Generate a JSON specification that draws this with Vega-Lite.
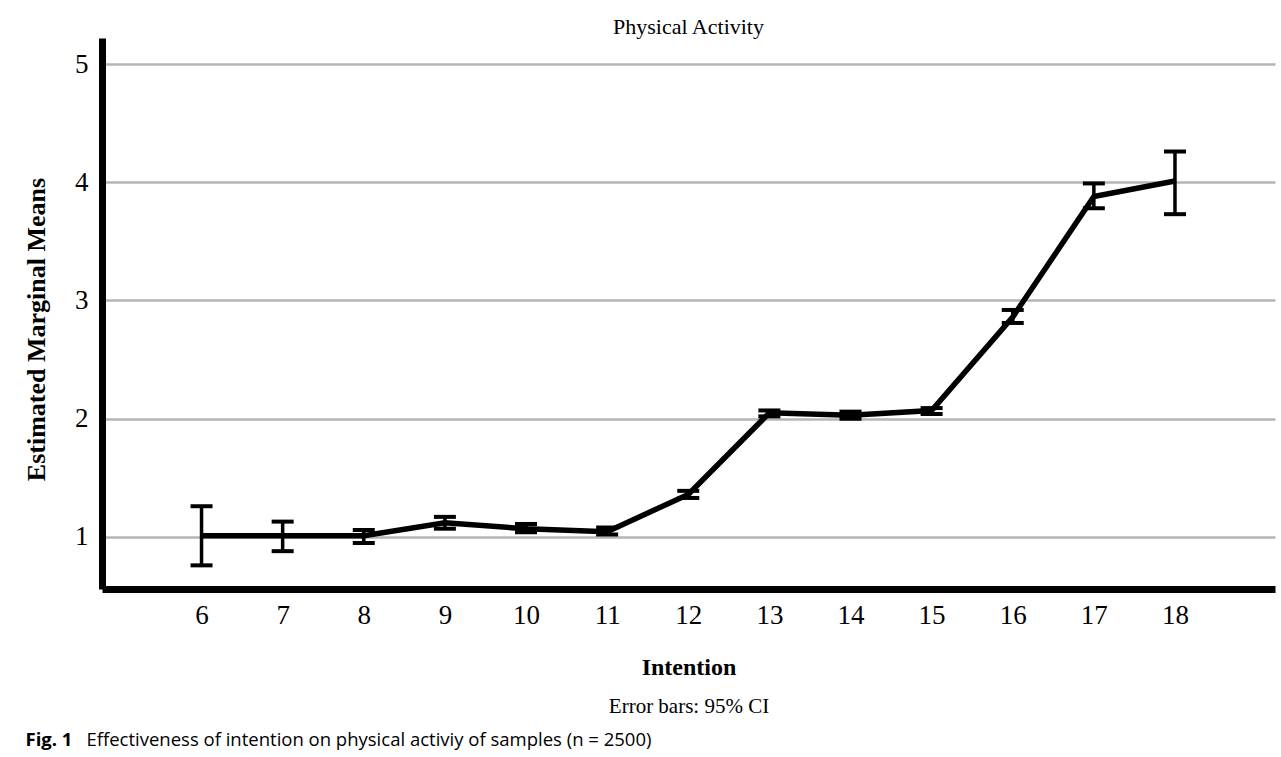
{
  "$schema": "https://vega.github.io/schema/vega-lite/v6.json",
  "width": 1173,
  "height": 551,
  "autosize": "none",
  "padding": {"left": 102, "top": 38, "right": 6, "bottom": 168},
  "background": "white",
  "config": {"view": {"stroke": null}, "font": "Liberation Serif"},
  "title": {"text": "Physical Activity", "font": "Liberation Serif", "fontSize": 22, "fontWeight": "normal", "color": "black", "anchor": "middle", "offset": -1},
  "data": {
    "values": [
      {"intention": 6, "mean": 1.01, "lo": 0.76, "hi": 1.26},
      {"intention": 7, "mean": 1.01, "lo": 0.88, "hi": 1.13},
      {"intention": 8, "mean": 1.01, "lo": 0.95, "hi": 1.06},
      {"intention": 9, "mean": 1.12, "lo": 1.07, "hi": 1.17},
      {"intention": 10, "mean": 1.07, "lo": 1.04, "hi": 1.11},
      {"intention": 11, "mean": 1.045, "lo": 1.02, "hi": 1.08},
      {"intention": 12, "mean": 1.36, "lo": 1.33, "hi": 1.39},
      {"intention": 13, "mean": 2.05, "lo": 2.02, "hi": 2.07},
      {"intention": 14, "mean": 2.03, "lo": 2.0, "hi": 2.06},
      {"intention": 15, "mean": 2.07, "lo": 2.04, "hi": 2.09},
      {"intention": 16, "mean": 2.86, "lo": 2.81, "hi": 2.92},
      {"intention": 17, "mean": 3.88, "lo": 3.78, "hi": 3.99},
      {"intention": 18, "mean": 4.01, "lo": 3.73, "hi": 4.26}
    ]
  },
  "resolve": {"axis": {"x": "independent"}},
  "layer": [
    {
      "mark": {"type": "rule", "color": "black", "strokeWidth": 3.5},
      "encoding": {
        "x": {
          "field": "intention", "type": "quantitative",
          "scale": {"domain": [4.773, 19.233], "nice": false, "zero": false},
          "axis": {
            "orient": "bottom", "values": [6, 7, 8, 9, 10, 11, 12, 13, 14, 15, 16, 17, 18],
            "grid": false, "ticks": false, "domainColor": "black", "domainWidth": 7,
            "labelFont": "Liberation Serif", "labelFontSize": 27, "labelColor": "black", "labelPadding": 13,
            "title": "Intention", "titleFont": "Liberation Serif", "titleFontSize": 24, "titleFontWeight": "bold",
            "titleColor": "black", "titleY": 78, "titleBaseline": "middle"
          }
        },
        "y": {
          "field": "lo", "type": "quantitative",
          "scale": {"domain": [0.56, 5.22], "nice": false, "zero": false},
          "axis": {
            "title": "Estimated Marginal Means", "values": [1, 2, 3, 4, 5],
            "grid": true, "gridColor": "#b5b5b5", "gridWidth": 2.5, "ticks": false,
            "domainColor": "black", "domainWidth": 7,
            "labelFont": "Liberation Serif", "labelFontSize": 27, "labelColor": "black", "labelPadding": 14,
            "titleFont": "Liberation Serif", "titleFontSize": 26, "titleFontWeight": "bold", "titleColor": "black",
            "titleX": -66, "titleY": 291, "titleBaseline": "middle"
          }
        },
        "y2": {"field": "hi"}
      }
    },
    {
      "mark": {"type": "tick", "orient": "horizontal", "color": "black", "opacity": 1, "size": 22, "thickness": 4},
      "encoding": {
        "x": {
          "field": "intention", "type": "quantitative",
          "scale": {"domain": [4.773, 19.233], "nice": false, "zero": false},
          "axis": {
            "orient": "bottom", "grid": false, "ticks": false, "labels": false, "domain": false,
            "title": "Error bars: 95% CI", "titleFont": "Liberation Serif", "titleFontSize": 21, "titleFontWeight": "normal",
            "titleColor": "black", "titleY": 117, "titleBaseline": "middle"
          }
        },
        "y": {
          "field": "lo", "type": "quantitative",
          "scale": {"domain": [0.56, 5.22], "nice": false, "zero": false},
          "axis": {
            "title": "Estimated Marginal Means", "values": [1, 2, 3, 4, 5],
            "grid": true, "gridColor": "#b5b5b5", "gridWidth": 2.5, "ticks": false,
            "domainColor": "black", "domainWidth": 7,
            "labelFont": "Liberation Serif", "labelFontSize": 27, "labelColor": "black", "labelPadding": 14,
            "titleFont": "Liberation Serif", "titleFontSize": 26, "titleFontWeight": "bold", "titleColor": "black",
            "titleX": -66, "titleY": 291, "titleBaseline": "middle"
          }
        }
      }
    },
    {
      "mark": {"type": "tick", "orient": "horizontal", "color": "black", "opacity": 1, "size": 22, "thickness": 4},
      "encoding": {
        "x": {
          "field": "intention", "type": "quantitative",
          "scale": {"domain": [4.773, 19.233], "nice": false, "zero": false},
          "axis": {
            "orient": "bottom", "grid": false, "ticks": false, "labels": false, "domain": false,
            "title": "Effectiveness of intention on physical activiy of samples (n = 2500)",
            "titleFont": "Open Sans", "titleFontSize": 18.5, "titleFontWeight": "normal",
            "titleColor": "black", "titleX": -16, "titleAlign": "left", "titleY": 150, "titleBaseline": "middle"
          }
        },
        "y": {
          "field": "hi", "type": "quantitative",
          "scale": {"domain": [0.56, 5.22], "nice": false, "zero": false},
          "axis": {
            "title": "Estimated Marginal Means", "values": [1, 2, 3, 4, 5],
            "grid": true, "gridColor": "#b5b5b5", "gridWidth": 2.5, "ticks": false,
            "domainColor": "black", "domainWidth": 7,
            "labelFont": "Liberation Serif", "labelFontSize": 27, "labelColor": "black", "labelPadding": 14,
            "titleFont": "Liberation Serif", "titleFontSize": 26, "titleFontWeight": "bold", "titleColor": "black",
            "titleX": -66, "titleY": 291, "titleBaseline": "middle"
          }
        }
      }
    },
    {
      "mark": {"type": "line", "color": "black", "strokeWidth": 5.5},
      "encoding": {
        "x": {
          "field": "intention", "type": "quantitative",
          "scale": {"domain": [4.773, 19.233], "nice": false, "zero": false},
          "axis": {
            "orient": "bottom", "grid": false, "ticks": false, "labels": false, "domain": false,
            "title": "Fig. 1",
            "titleFont": "Open Sans", "titleFontSize": 18.5, "titleFontWeight": "bold",
            "titleColor": "black", "titleX": -77, "titleAlign": "left", "titleY": 150, "titleBaseline": "middle"
          }
        },
        "y": {
          "field": "mean", "type": "quantitative",
          "scale": {"domain": [0.56, 5.22], "nice": false, "zero": false},
          "axis": {
            "title": "Estimated Marginal Means", "values": [1, 2, 3, 4, 5],
            "grid": true, "gridColor": "#b5b5b5", "gridWidth": 2.5, "ticks": false,
            "domainColor": "black", "domainWidth": 7,
            "labelFont": "Liberation Serif", "labelFontSize": 27, "labelColor": "black", "labelPadding": 14,
            "titleFont": "Liberation Serif", "titleFontSize": 26, "titleFontWeight": "bold", "titleColor": "black",
            "titleX": -66, "titleY": 291, "titleBaseline": "middle"
          }
        }
      }
    }
  ]
}
